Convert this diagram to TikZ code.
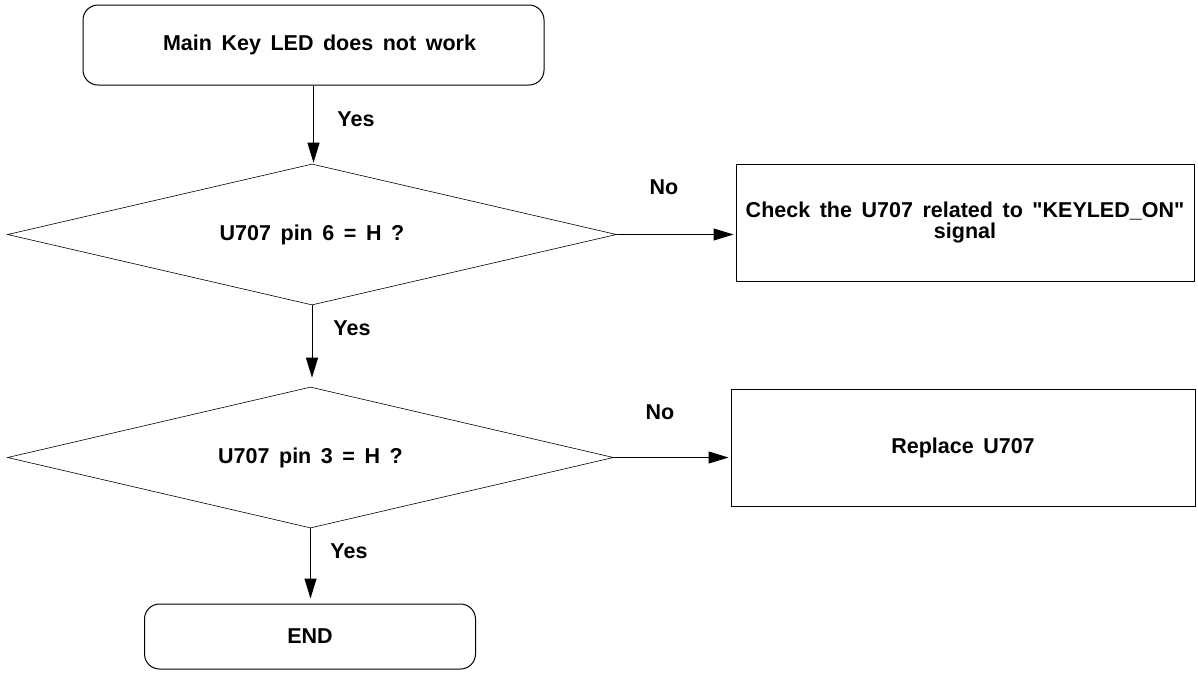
\documentclass[tikz,border=0pt]{standalone}
\usepackage{fontspec}
\setmainfont{Liberation Sans}[WordSpace=1.6,Ligatures=TeXOff]
\usetikzlibrary{shapes.geometric,arrows.meta}
\begin{document}
\begin{tikzpicture}[x=1pt,y=1pt,
  every node/.style={font=\fontsize{21.5}{21.5}\selectfont\bfseries},
  roundbox/.style={draw,line width=1pt,rounded corners=15pt,inner sep=0pt},
  plainbox/.style={draw,line width=1pt,inner sep=0pt,align=center},
  decision/.style={draw,shape=diamond,aspect=4.3,line width=0.6pt,inner sep=0pt},
  arr/.style={line width=1pt,-{Triangle[length=20pt,width=12pt]}},
  lbl/.style={inner sep=0pt}]
\useasboundingbox (0,0) rectangle (1198,-673);
\node[roundbox,minimum width=461pt,minimum height=80pt] (start) at (313.5,-45) {\hspace*{12pt}Main Key LED does not work};
\node[decision,minimum width=609pt,minimum height=141pt] (d1) at (312,-234.5) {U707 pin 6 = H ?};
\node[plainbox,minimum width=458pt,minimum height=117pt] (box1) at (965,-222.5) {Check the U707 related to "KEYLED\_ON"\\signal};
\node[decision,minimum width=606pt,minimum height=141pt] (d2) at (310.5,-457.5) {U707 pin 3 = H ?};
\node[plainbox,minimum width=464pt,minimum height=117pt] (box2) at (963,-447.5) {Replace U707};
\node[roundbox,minimum width=331pt,minimum height=65pt] (endbox) at (310,-636.5) {END};
\draw[arr,shorten >=1pt] (start.south) -- (start.south |- d1.north);
\draw[arr,shorten >=2pt] (d1.east) -- (d1.east -| box1.west);
\draw[arr,shorten >=9pt] (d1.south) -- (d1.south |- d2.north);
\draw[arr,shorten >=2pt] (d2.east) -- (d2.east -| box2.west);
\draw[arr,shorten >=5pt] (d2.south) -- (d2.south |- endbox.north);
\node[lbl] (yes1) at (356,-119) {Yes};
\node[lbl] (no1) at (664,-187) {No};
\node[lbl] (yes2) at (352,-328) {Yes};
\node[lbl] (no2) at (660,-412) {No};
\node[lbl] (yes3) at (349,-551) {Yes};
\end{tikzpicture}
\end{document}
